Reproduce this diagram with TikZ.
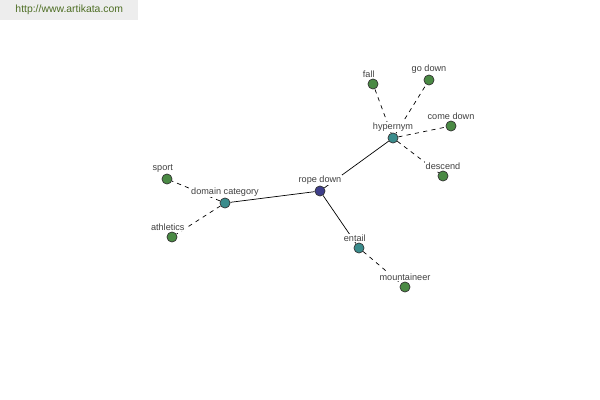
\documentclass[tikz,border=0pt]{standalone}
\usepackage{fontspec}
\setmainfont{Liberation Sans}
\usepackage{xcolor}
\usepackage{tikz}
\usetikzlibrary{backgrounds}

\definecolor{rootblue}{HTML}{3E3E8A}
\definecolor{relteal}{HTML}{3A8C8C}
\definecolor{leafgreen}{HTML}{4A8A44}
\definecolor{sitegreen}{HTML}{4E6E24}

\begin{document}
\begin{tikzpicture}[
  x=0.025cm, y=-0.025cm,
  font=\fontsize{6.5}{7}\selectfont,
  dot/.style={
    circle, draw=black!80, line width=0.5pt, inner sep=0pt,
    minimum size=7.2pt
  },
  root/.style={dot, fill=rootblue},
  rel/.style={dot, fill=relteal},
  leaf/.style={dot, fill=leafgreen},
  lbl/.style={fill=white, inner sep=0.6pt, text=black!75},
  link/.style={draw=black, line width=0.5pt},
  dlink/.style={link, dash pattern=on 3pt off 3pt},
  banner/.style={
    rectangle, fill=black!7, inner sep=0pt, anchor=north west,
    minimum width=138*0.025cm, minimum height=20*0.025cm,
    font=\fontsize{7.4}{8}\selectfont, text=sitegreen
  }
]

\useasboundingbox (0,0) rectangle (600,400);

\node[banner] (site) at (0,0) {http://www.artikata.com};

% centre and relations
\node[root, label={[lbl]above:rope down}] (rope) at (320,191) {};
\node[rel, label={[lbl]above:domain category}] (domain) at (225,203) {};
\node[rel, label={[lbl]above:hypernym}] (hyper) at (393,138) {};
\node[rel, label={[lbl,xshift=-3pt]above:entail}] (entail) at (359,248) {};

% leaves
\node[leaf, label={[lbl,xshift=-3pt]above:sport}] (sport) at (167,179) {};
\node[leaf, label={[lbl,xshift=-3pt]above:athletics}] (athl) at (172,237) {};
\node[leaf, label={[lbl,xshift=-3pt]above:fall}] (fall) at (373,84) {};
\node[leaf, label={[lbl]above:go down}] (godown) at (429,80) {};
\node[leaf, label={[lbl]above:come down}] (comedown) at (451,126) {};
\node[leaf, label={[lbl]above:descend}] (descend) at (443,176) {};
\node[leaf, label={[lbl]above:mountaineer}] (mount) at (405,287) {};

\begin{pgfonlayer}{background}
  \draw[link] (rope) -- (domain);
  \draw[link] (rope) -- (hyper);
  \draw[link] (rope) -- (entail);
  \draw[dlink] (domain) -- (sport);
  \draw[dlink] (domain) -- (athl);
  \draw[dlink] (hyper) -- (fall);
  \draw[dlink] (hyper) -- (godown);
  \draw[dlink] (hyper) -- (comedown);
  \draw[dlink] (hyper) -- (descend);
  \draw[dlink] (entail) -- (mount);
\end{pgfonlayer}

\end{tikzpicture}
\end{document}
